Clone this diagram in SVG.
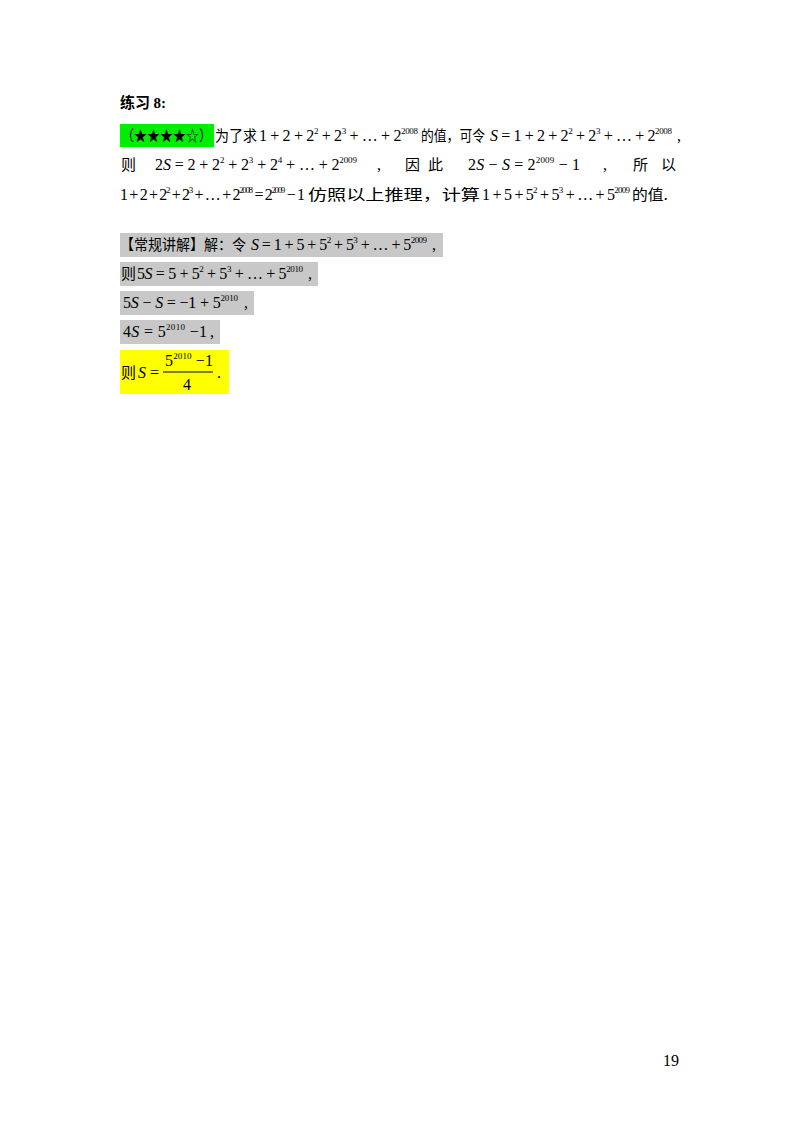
<svg xmlns="http://www.w3.org/2000/svg" width="800" height="1132" viewBox="0 0 800 1132">
<style>
text{font-family:"Liberation Serif","Noto Sans CJK SC",serif;font-size:16px;fill:#000}
.c{font-family:"Noto Sans CJK SC",sans-serif;font-size:15px}
.b{font-weight:bold}
.i{font-style:italic}
.s{font-size:9px}
</style>
<rect width="800" height="1132" fill="#fff"/>
<g id="title"><text x="120" y="108" class="c b">练习 <tspan font-family="Liberation Serif" font-size="15px">8:</tspan></text></g>
<g id="problem">
<rect x="120" y="124" width="94" height="23" fill="#00ee00"/>
<text x="121" y="141" class="c" textLength="91" lengthAdjust="spacingAndGlyphs">（★★★★☆）</text>
<text x="215" y="141" class="c" textLength="42" lengthAdjust="spacingAndGlyphs">为了求</text>
<text x="259" y="141" textLength="159" lengthAdjust="spacing">1 + 2 + 2<tspan class="s" dy="-7">2</tspan><tspan dy="7"> + 2</tspan><tspan class="s" dy="-7">3</tspan><tspan dy="7"> + … + 2</tspan><tspan class="s" dy="-7">2008</tspan></text>
<text x="421" y="141" class="c" textLength="64" lengthAdjust="spacingAndGlyphs">的值，可令</text>
<text x="490" y="141" textLength="182" lengthAdjust="spacing"><tspan class="i">S</tspan> = 1 + 2 + 2<tspan class="s" dy="-7">2</tspan><tspan dy="7"> + 2</tspan><tspan class="s" dy="-7">3</tspan><tspan dy="7"> + … + 2</tspan><tspan class="s" dy="-7">2008</tspan></text>
<text x="677" y="141">,</text>
<text x="121" y="170" class="c">则</text>
<text x="155" y="170" textLength="202" lengthAdjust="spacing">2<tspan class="i">S</tspan> = 2 + 2<tspan class="s" dy="-7">2</tspan><tspan dy="7"> + 2</tspan><tspan class="s" dy="-7">3</tspan><tspan dy="7"> + 2</tspan><tspan class="s" dy="-7">4</tspan><tspan dy="7"> + … + 2</tspan><tspan class="s" dy="-7">2009</tspan></text>
<text x="377" y="170">,</text>
<text x="405" y="170" class="c">因</text>
<text x="428" y="170" class="c">此</text>
<text x="468" y="170" textLength="112" lengthAdjust="spacing">2<tspan class="i">S</tspan> − <tspan class="i">S</tspan> = 2<tspan class="s" dy="-7">2009</tspan><tspan dy="7"> − 1</tspan></text>
<text x="603" y="170">,</text>
<text x="633" y="170" class="c">所</text>
<text x="661" y="170" class="c">以</text>
<text x="120" y="200" textLength="185" lengthAdjust="spacing">1 + 2 + 2<tspan class="s" dy="-7">2</tspan><tspan dy="7"> + 2</tspan><tspan class="s" dy="-7">3</tspan><tspan dy="7"> + … + 2</tspan><tspan class="s" dy="-7">2008</tspan><tspan dy="7"> = 2</tspan><tspan class="s" dy="-7">2009</tspan><tspan dy="7"> − 1</tspan></text>
<text x="308" y="200" class="c" textLength="172" lengthAdjust="spacingAndGlyphs">仿照以上推理，计算</text>
<text x="482" y="200" textLength="148" lengthAdjust="spacing">1 + 5 + 5<tspan class="s" dy="-7">2</tspan><tspan dy="7"> + 5</tspan><tspan class="s" dy="-7">3</tspan><tspan dy="7"> + … + 5</tspan><tspan class="s" dy="-7">2009</tspan></text>
<text x="632" y="200" class="c" textLength="36" lengthAdjust="spacingAndGlyphs">的值.</text>
</g>
<g id="solution">
<rect x="120" y="233" width="323" height="24" fill="#c8c8c8"/>
<rect x="120" y="262" width="198" height="24" fill="#c8c8c8"/>
<rect x="120" y="291" width="134" height="24" fill="#c8c8c8"/>
<rect x="120" y="320" width="100" height="24" fill="#c8c8c8"/>
<rect x="120" y="350" width="109" height="44" fill="#ffff00"/>
<text x="120" y="250" class="c" textLength="126" lengthAdjust="spacingAndGlyphs">【常规讲解】解：令</text>
<text x="251" y="250" textLength="176" lengthAdjust="spacing"><tspan class="i">S</tspan> = 1 + 5 + 5<tspan class="s" dy="-7">2</tspan><tspan dy="7"> + 5</tspan><tspan class="s" dy="-7">3</tspan><tspan dy="7"> + … + 5</tspan><tspan class="s" dy="-7">2009</tspan></text>
<text x="432" y="250">,</text>
<text x="121" y="279" class="c">则</text>
<text x="137" y="279" textLength="166" lengthAdjust="spacing">5<tspan class="i">S</tspan> = 5 + 5<tspan class="s" dy="-7">2</tspan><tspan dy="7"> + 5</tspan><tspan class="s" dy="-7">3</tspan><tspan dy="7"> + … + 5</tspan><tspan class="s" dy="-7">2010</tspan></text>
<text x="308" y="279">,</text>
<text x="123" y="308" textLength="115" lengthAdjust="spacing">5<tspan class="i">S</tspan> − <tspan class="i">S</tspan> = −1 + 5<tspan class="s" dy="-7">2010</tspan></text>
<text x="244" y="308">,</text>
<text x="123" y="337" textLength="84" lengthAdjust="spacing">4<tspan class="i">S</tspan> = 5<tspan class="s" dy="-7">2010</tspan><tspan dy="7"> −1</tspan></text>
<text x="210" y="337">,</text>
<text x="121" y="378" class="c">则</text>
<text x="138" y="378"><tspan class="i">S</tspan> =</text>
<text x="165" y="366" textLength="48" lengthAdjust="spacing">5<tspan class="s" dy="-7">2010</tspan><tspan dy="7"> −1</tspan></text>
<line x1="163" y1="372" x2="213" y2="372" stroke="#000" stroke-width="1"/>
<text x="183" y="390">4</text>
<text x="217" y="378">.</text>
</g>
<g id="page"><text x="663" y="1066" font-size="14px">19</text></g>
</svg>
